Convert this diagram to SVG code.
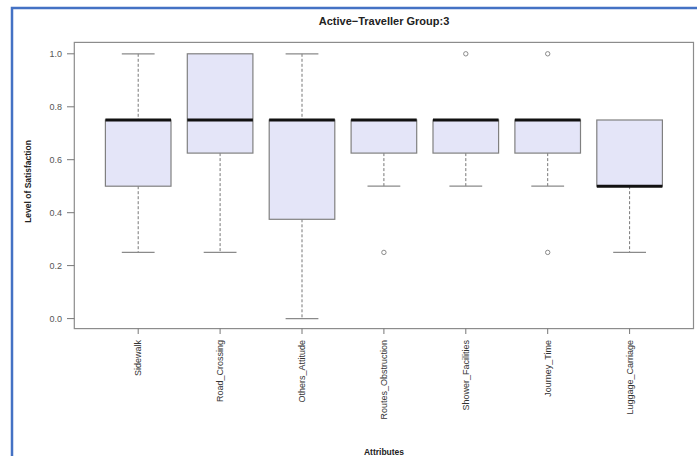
<svg xmlns="http://www.w3.org/2000/svg" width="697" height="456" viewBox="0 0 697 456">
  <style>
    text { font-family: "Liberation Sans", Arial, sans-serif; }
    .title { font-size: 11px; font-weight: bold; fill: #222; }
    .lab { font-size: 8.5px; font-weight: bold; fill: #222; }
    .tick { font-size: 9px; fill: #555; }
    .xlab { font-size: 9px; fill: #333; }
    .frame { fill: none; stroke: #8c8c8c; stroke-width: 1.2; }
    .tk { stroke: #777; stroke-width: 1; }
    .box { fill: #e4e5f8; stroke: #808080; stroke-width: 1.2; }
    .med { stroke: #111; stroke-width: 3; }
    .whisk { stroke: #777; stroke-width: 1; stroke-dasharray: 3 2; }
    .cap { stroke: #8a8a8a; stroke-width: 1.2; }
    .out { fill: none; stroke: #8a8a8a; stroke-width: 1; }
  </style>

  <rect width="697" height="456" fill="#fff"/>
  <!-- page border (left and top only) -->
  <path d="M12 456 V8 H697" fill="none" stroke="#4472c4" stroke-width="2.5"/>

  <text class="title" x="384" y="24.5" text-anchor="middle">Active−Traveller Group:3</text>

  <!-- plot frame -->
  <rect class="frame" x="74.3" y="42.4" width="619.2" height="286.2"/>

  <!-- y axis -->
  <g id="y-axis">
    <g class="tk">
      <line x1="67" y1="53.8" x2="74.3" y2="53.8"/>
      <line x1="67" y1="106.8" x2="74.3" y2="106.8"/>
      <line x1="67" y1="159.7" x2="74.3" y2="159.7"/>
      <line x1="67" y1="212.7" x2="74.3" y2="212.7"/>
      <line x1="67" y1="265.6" x2="74.3" y2="265.6"/>
      <line x1="67" y1="318.6" x2="74.3" y2="318.6"/>
    </g>
    <text class="tick" x="62" y="57" text-anchor="end">1.0</text>
    <text class="tick" x="62" y="110" text-anchor="end">0.8</text>
    <text class="tick" x="62" y="163" text-anchor="end">0.6</text>
    <text class="tick" x="62" y="216" text-anchor="end">0.4</text>
    <text class="tick" x="62" y="269" text-anchor="end">0.2</text>
    <text class="tick" x="62" y="322" text-anchor="end">0.0</text>
    <text class="lab" transform="translate(31 181.5) rotate(-90)" text-anchor="middle">Level of Satisfaction</text>
  </g>

  <!-- x axis -->
  <g id="x-axis">
    <g class="tk">
      <line x1="138.2" y1="328.6" x2="138.2" y2="334"/>
      <line x1="220.1" y1="328.6" x2="220.1" y2="334"/>
      <line x1="302" y1="328.6" x2="302" y2="334"/>
      <line x1="383.9" y1="328.6" x2="383.9" y2="334"/>
      <line x1="465.8" y1="328.6" x2="465.8" y2="334"/>
      <line x1="547.7" y1="328.6" x2="547.7" y2="334"/>
      <line x1="629.6" y1="328.6" x2="629.6" y2="334"/>
    </g>
    <text class="xlab" transform="translate(141.4 340) rotate(-90)" text-anchor="end">Sidewalk</text>
    <text class="xlab" transform="translate(223.3 340) rotate(-90)" text-anchor="end">Road_Crossing</text>
    <text class="xlab" transform="translate(305.2 340) rotate(-90)" text-anchor="end">Others_Attitude</text>
    <text class="xlab" transform="translate(387.1 340) rotate(-90)" text-anchor="end">Routes_Obstruction</text>
    <text class="xlab" transform="translate(469 340) rotate(-90)" text-anchor="end">Shower_Facilities</text>
    <text class="xlab" transform="translate(550.9 340) rotate(-90)" text-anchor="end">Journey_Time</text>
    <text class="xlab" transform="translate(632.8 340) rotate(-90)" text-anchor="end">Luggage_Carriage</text>
    <text class="lab" x="384" y="455" text-anchor="middle">Attributes</text>
  </g>

  <!-- whiskers and caps -->
  <g id="connectors">
    <!-- Sidewalk -->
    <line class="whisk" x1="138.2" y1="53.8" x2="138.2" y2="120"/>
    <line class="whisk" x1="138.2" y1="186.2" x2="138.2" y2="252.4"/>
    <line class="cap" x1="121.8" y1="53.8" x2="154.6" y2="53.8"/>
    <line class="cap" x1="121.8" y1="252.4" x2="154.6" y2="252.4"/>
    <!-- Road_Crossing -->
    <line class="whisk" x1="220.1" y1="153.1" x2="220.1" y2="252.4"/>
    <line class="cap" x1="203.7" y1="252.4" x2="236.5" y2="252.4"/>
    <!-- Others_Attitude -->
    <line class="whisk" x1="302" y1="53.8" x2="302" y2="120"/>
    <line class="whisk" x1="302" y1="219.3" x2="302" y2="318.6"/>
    <line class="cap" x1="285.6" y1="53.8" x2="318.4" y2="53.8"/>
    <line class="cap" x1="285.6" y1="318.6" x2="318.4" y2="318.6"/>
    <!-- Routes_Obstruction -->
    <line class="whisk" x1="383.9" y1="153.1" x2="383.9" y2="186.2"/>
    <line class="cap" x1="367.5" y1="186.2" x2="400.3" y2="186.2"/>
    <!-- Shower_Facilities -->
    <line class="whisk" x1="465.8" y1="153.1" x2="465.8" y2="186.2"/>
    <line class="cap" x1="449.4" y1="186.2" x2="482.2" y2="186.2"/>
    <!-- Journey_Time -->
    <line class="whisk" x1="547.7" y1="153.1" x2="547.7" y2="186.2"/>
    <line class="cap" x1="531.3" y1="186.2" x2="564.1" y2="186.2"/>
    <!-- Luggage_Carriage -->
    <line class="whisk" x1="629.6" y1="186.2" x2="629.6" y2="252.4"/>
    <line class="cap" x1="613.2" y1="252.4" x2="646" y2="252.4"/>
  </g>

  <g id="sidewalk">
    <rect class="box" x="105.4" y="120" width="65.6" height="66.2"/>
    <line class="med" x1="105.4" y1="120" x2="171" y2="120"/>
  </g>
  <g id="road-crossing">
    <rect class="box" x="187.3" y="53.8" width="65.6" height="99.3"/>
    <line class="med" x1="187.3" y1="120" x2="252.9" y2="120"/>
  </g>
  <g id="others-attitude">
    <rect class="box" x="269.2" y="120" width="65.6" height="99.3"/>
    <line class="med" x1="269.2" y1="120" x2="334.8" y2="120"/>
  </g>
  <g id="routes-obstruction">
    <rect class="box" x="351.1" y="120" width="65.6" height="33.1"/>
    <line class="med" x1="351.1" y1="120" x2="416.7" y2="120"/>
    <circle class="out" cx="383.9" cy="252.4" r="2.2"/>
  </g>
  <g id="shower-facilities">
    <rect class="box" x="433" y="120" width="65.6" height="33.1"/>
    <line class="med" x1="433" y1="120" x2="498.6" y2="120"/>
    <circle class="out" cx="465.8" cy="53.8" r="2.2"/>
  </g>
  <g id="journey-time">
    <rect class="box" x="514.9" y="120" width="65.6" height="33.1"/>
    <line class="med" x1="514.9" y1="120" x2="580.5" y2="120"/>
    <circle class="out" cx="547.7" cy="53.8" r="2.2"/>
    <circle class="out" cx="547.7" cy="252.4" r="2.2"/>
  </g>
  <g id="luggage-carriage">
    <rect class="box" x="596.8" y="120" width="65.6" height="66.2"/>
    <line class="med" x1="596.8" y1="186.2" x2="662.4" y2="186.2"/>
  </g>
</svg>
